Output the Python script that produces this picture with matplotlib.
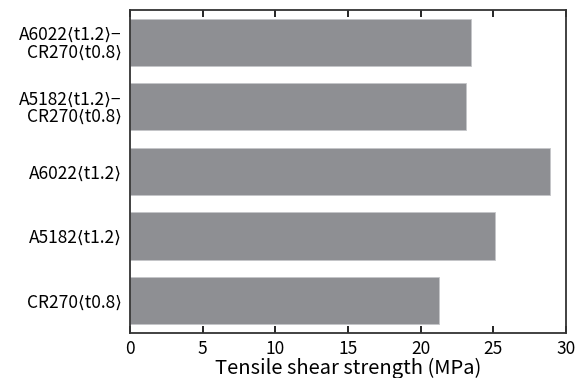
import matplotlib.pyplot as plt

plt.rcParams['font.family'] = ['Noto Sans CJK JP', 'DejaVu Sans']

labels = ['A6022⟨t1.2⟩−\nCR270⟨t0.8⟩',
          'A5182⟨t1.2⟩−\nCR270⟨t0.8⟩',
          'A6022⟨t1.2⟩',
          'A5182⟨t1.2⟩',
          'CR270⟨t0.8⟩']
strength = [23.5, 23.1, 28.9, 25.1, 21.3]
xticks = [0, 5, 10, 15, 20, 25, 30]

fig = plt.figure(figsize=(5.78, 3.78), dpi=100)
ax = fig.add_axes([0.225, 0.119, 0.754, 0.855])

pos = list(range(len(labels)))[::-1]
ax.barh(pos, strength, height=0.73, color='#8e8f93', edgecolor='#c4c5c8', linewidth=0.6)

ax.set_xlim(0, 30)
ax.set_ylim(-0.5, 4.5)
ax.set_xticks(xticks)
ax.set_xticklabels([str(t) for t in xticks], fontsize=12.5)
ax.set_yticks(pos)
ax.set_yticklabels(labels, fontsize=12.5, linespacing=0.95)
ax.tick_params(axis='y', length=0, pad=6)
ax.tick_params(axis='x', direction='in', top=True, length=5, width=1.2, pad=5)
ax.set_xlabel('Tensile shear strength (MPa)', fontsize=14.5, labelpad=0)

for s in ax.spines.values():
    s.set_linewidth(1.3)
    s.set_color('#333333')

plt.savefig('out.png', dpi=100)
